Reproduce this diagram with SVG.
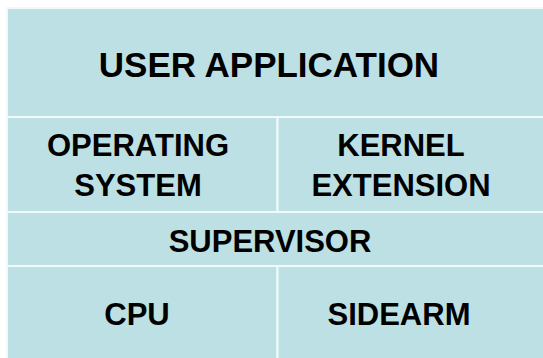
<svg xmlns="http://www.w3.org/2000/svg" width="543" height="358" viewBox="0 0 543 358">
  <style>
    .cell { fill: #BCE0E4; stroke: #F2F9FA; stroke-width: 2; }
    .lbl { font-family: "Liberation Sans", Arial, sans-serif; font-weight: bold; fill: #000; text-anchor: middle; }
    .big { font-size: 35px; }
    .mid { font-size: 31px; }
  </style>
  <rect x="0" y="0" width="543" height="358" fill="#FFFFFF"/>

  <!-- layer stack, top to bottom -->
  <g id="user-application">
    <rect class="cell" x="7" y="8" width="540" height="109"/>
    <text class="lbl big" x="269" y="77">USER APPLICATION</text>
  </g>
  <g id="operating-system">
    <rect class="cell" x="7" y="117" width="270.5" height="95"/>
    <text class="lbl mid" x="138" y="156">OPERATING</text>
    <text class="lbl mid" x="138" y="196">SYSTEM</text>
  </g>
  <g id="kernel-extension">
    <rect class="cell" x="277.5" y="117" width="270" height="95"/>
    <text class="lbl mid" x="401" y="156">KERNEL</text>
    <text class="lbl mid" x="401" y="196">EXTENSION</text>
  </g>
  <g id="supervisor">
    <rect class="cell" x="7" y="212" width="540" height="54"/>
    <text class="lbl mid" x="270" y="252">SUPERVISOR</text>
  </g>
  <g id="cpu">
    <rect class="cell" x="7" y="266" width="270.5" height="96"/>
    <text class="lbl mid" x="137" y="325">CPU</text>
  </g>
  <g id="sidearm">
    <rect class="cell" x="277.5" y="266" width="270" height="96"/>
    <text class="lbl mid" x="399" y="325">SIDEARM</text>
  </g>

  <g id="connectors"></g>
</svg>
